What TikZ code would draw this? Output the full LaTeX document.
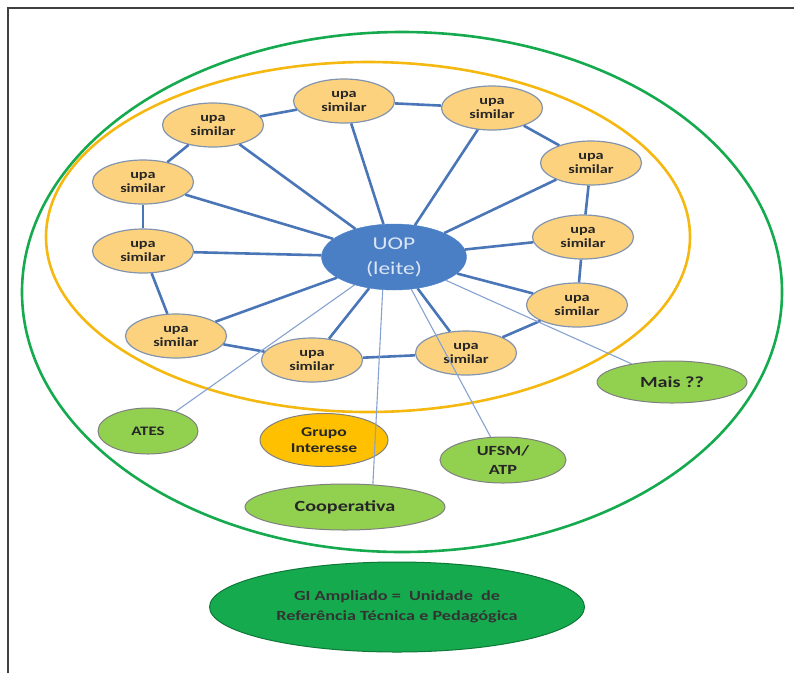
\documentclass[tikz,border=0pt]{standalone}
\usepackage{fontspec}
\usepackage{xcolor}
\usepackage{tikz}
\usetikzlibrary{shapes.geometric}
\newfontfamily\diagfont[FakeStretch=1.3]{Carlito}

\definecolor{upafill}{HTML}{FDD27E}
\definecolor{upaline}{HTML}{8294AE}
\definecolor{uopfill}{HTML}{4A7FC6}
\definecolor{uoptext}{HTML}{DCE6F4}
\definecolor{spoke}{HTML}{4A76B8}
\definecolor{thinspoke}{HTML}{86A2D0}
\definecolor{leafgreen}{HTML}{92D050}
\definecolor{darkgreen}{HTML}{16AA4E}
\definecolor{ringyellow}{HTML}{F4B810}
\definecolor{grupofill}{HTML}{FFC000}

\begin{document}
\begin{tikzpicture}[
    x=1pt, y=-1pt,
    upa/.style={draw=upaline, line width=1.2pt, ellipse, fill=upafill, inner sep=0pt, minimum width=101pt, minimum height=44pt, align=center, font=\diagfont\bfseries\fontsize{12.5}{14}\selectfont, text=black!85},
    uop/.style={draw=uopfill, ellipse, fill=uopfill, inner sep=0pt, minimum width=145pt, minimum height=66pt, align=center, font=\diagfont\fontsize{18}{25}\selectfont, text=uoptext},
    leaf/.style={draw=black!50, line width=1pt, ellipse, fill=leafgreen, inner sep=0pt, align=center, font=\diagfont\bfseries\fontsize{13}{15}\selectfont, text=black!85},
    spokeline/.style={spoke, line width=2.6pt},
    thinline/.style={thinspoke, line width=1.1pt}
]
\useasboundingbox (0,0) rectangle (794,673);
\draw[line width=2.2pt, black!75] (794,8) -- (8,8) -- (8,673);

% big rings
\draw[darkgreen, line width=2.6pt] (402,292) ellipse [x radius=380, y radius=260];
\draw[ringyellow, line width=2.6pt] (368,237) ellipse [x radius=322, y radius=175];

\node[uop] (uop) at (394,257) {UOP\\(leite)};

\node[upa] (upaA) at (213,125) {upa\\similar};
\node[upa] (upaB) at (344,101) {upa\\similar};
\node[upa] (upaC) at (492,108) {upa\\similar};
\node[upa] (upaD) at (591,163) {upa\\similar};
\node[upa] (upaE) at (583,237) {upa\\similar};
\node[upa] (upaF) at (577,305) {upa\\similar};
\node[upa] (upaG) at (466,353) {upa\\similar};
\node[upa] (upaH) at (312,360) {upa\\similar};
\node[upa] (upaI) at (176,336) {upa\\similar};
\node[upa] (upaJ) at (143,251) {upa\\similar};
\node[upa] (upaK) at (143,182) {upa\\similar};

\node[leaf, minimum width=150pt, minimum height=42pt, font=\diagfont\bfseries\fontsize{15.5}{17}\selectfont] (mais) at (672,382) {Mais ??};
\node[leaf, minimum width=100pt, minimum height=46pt] (ates) at (148,431) {ATES};
\node[leaf, fill=grupofill, minimum width=128pt, minimum height=53pt, font=\diagfont\bfseries\fontsize{13.5}{16}\selectfont] (grupo) at (324,440) {Grupo\\Interesse};
\node[leaf, minimum width=126pt, minimum height=46pt, font=\diagfont\bfseries\fontsize{14}{19}\selectfont] (ufsm) at (503,460) {UFSM/\\ATP};
\node[leaf, minimum width=200pt, minimum height=46pt, font=\diagfont\bfseries\fontsize{15.5}{17}\selectfont] (coop) at (345,507) {Cooperativa};
\node[leaf, draw=darkgreen!70!black, fill=darkgreen, minimum width=375pt, minimum height=90pt, font=\diagfont\bfseries\fontsize{14}{20}\selectfont, text=black!80] (gi) at (397,607) {GI Ampliado =~ Unidade~ de\\Referência Técnica e Pedagógica};

% ring of upa
\draw[spokeline] (upaA) -- (upaB);
\draw[spokeline] (upaB) -- (upaC);
\draw[spokeline] (upaC) -- (upaD);
\draw[spokeline] (upaD) -- (upaE);
\draw[spokeline] (upaE) -- (upaF);
\draw[spokeline] (upaF) -- (upaG);
\draw[spokeline] (upaG) -- (upaH);
\draw[spokeline] (upaH) -- (upaI);
\draw[spokeline] (upaI) -- (upaJ);
\draw[spokeline] (upaJ) -- (upaK);
\draw[spokeline] (upaK) -- (upaA);

% spokes
\draw[spokeline] (uop) -- (upaA);
\draw[spokeline] (uop) -- (upaB);
\draw[spokeline] (uop) -- (upaC);
\draw[spokeline] (uop) -- (upaD);
\draw[spokeline] (uop) -- (upaE);
\draw[spokeline] (uop) -- (upaF);
\draw[spokeline] (uop) -- (upaG);
\draw[spokeline] (uop) -- (upaH);
\draw[spokeline] (uop) -- (upaI);
\draw[spokeline] (uop) -- (upaJ);
\draw[spokeline] (uop) -- (upaK);

% partners
\draw[thinline] (uop) -- (ates);
\draw[thinline] (uop.-109) -- (coop.39);
\draw[thinline] (uop) -- (ufsm);
\draw[thinline] (uop) -- (mais);
\end{tikzpicture}
\end{document}
